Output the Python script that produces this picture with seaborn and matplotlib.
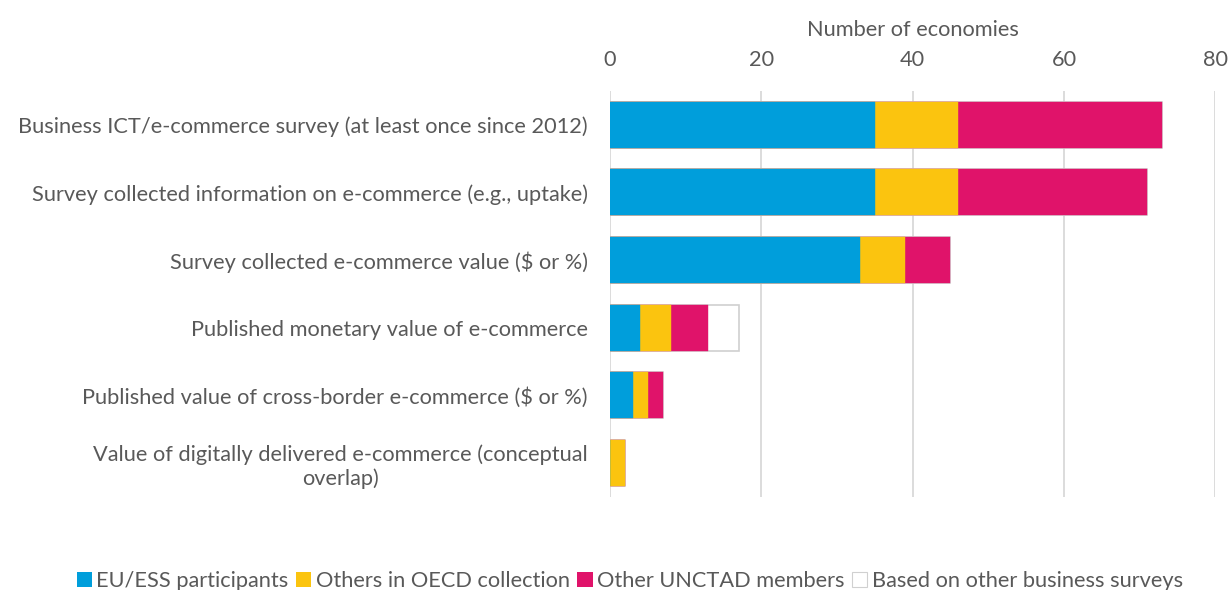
import matplotlib
matplotlib.use("Agg")
import matplotlib.pyplot as plt
import seaborn as sns
import pandas as pd
import numpy as np
from matplotlib.patches import Patch

categories = [
    "Business ICT/e-commerce survey (at least once since 2012)",
    "Survey collected information on e-commerce (e.g., uptake)",
    "Survey collected e-commerce value ($ or %)",
    "Published monetary value of e-commerce",
    "Published value of cross-border e-commerce ($ or %)",
    "Value of digitally delivered e-commerce (conceptual\noverlap)",
]
eu_ess = [35, 35, 33, 4, 3, 0]
others_oecd = [11, 11, 6, 4, 2, 2]
other_unctad = [27, 25, 6, 5, 2, 0]
other_surveys = [0, 0, 0, 4, 0, 0]

series_names = ["EU/ESS participants", "Others in OECD collection",
                "Other UNCTAD members", "Based on other business surveys"]
colors = ["#009EDB", "#FBC40F", "#E0136A", "#FFFFFF"]
edges = ["#009EDB", "#FBC40F", "#E0136A", "#D0D0D0"]

sns.set_theme(style="white")
plt.rcParams['font.family'] = ['Lato', 'DejaVu Sans']
text_color = "#595959"
fs = 15.7

df = pd.DataFrame({"category": categories, "s0": eu_ess, "s1": others_oecd,
                   "s2": other_unctad, "s3": other_surveys})
vals = df[["s0", "s1", "s2", "s3"]].to_numpy()
cum = np.cumsum(vals, axis=1)

fig = plt.figure(figsize=(12.3, 5.9), dpi=100)
ax = fig.add_axes([0.496, 0.158, 0.492, 0.688])

for i in range(3, -1, -1):
    d = pd.DataFrame({"category": categories, "value": cum[:, i]})
    sns.barplot(data=d, y="category", x="value", orient="h", color=colors[i],
                saturation=1, width=0.68, ax=ax, edgecolor=edges[i],
                linewidth=1.2 if i == 3 else 0.3, zorder=3)

ax.set_xlim(0, 80)
ax.set_xticks([0, 20, 40, 60, 80])
ax.xaxis.tick_top()
ax.xaxis.set_label_position("top")
ax.set_xlabel("Number of economies", color=text_color, fontsize=fs, labelpad=10)
ax.set_ylabel("")
ax.tick_params(axis="x", length=0, pad=15, labelsize=fs, labelcolor=text_color,
               labelbottom=False, labeltop=True, bottom=False)
ax.tick_params(axis="y", length=0, pad=16, labelsize=fs, labelcolor=text_color)
for lbl in ax.get_yticklabels():
    lbl.set_multialignment("center")
ax.grid(axis="x", color="#D9D9D9", linewidth=1.3, zorder=0)
ax.grid(axis="y", visible=False)
ax.set_axisbelow(True)
for s in ax.spines.values():
    s.set_visible(False)

handles = [Patch(facecolor=colors[i], edgecolor=edges[i], linewidth=0.8 if i == 3 else 0)
           for i in range(4)]
fig.legend(handles, series_names, loc="lower center", bbox_to_anchor=(0.512, -0.035),
           ncol=4, frameon=False, fontsize=fs, handlelength=0.7, handleheight=0.7,
           handletextpad=0.2, columnspacing=0.35, labelcolor=text_color)

fig.savefig("out.png", dpi=100)
